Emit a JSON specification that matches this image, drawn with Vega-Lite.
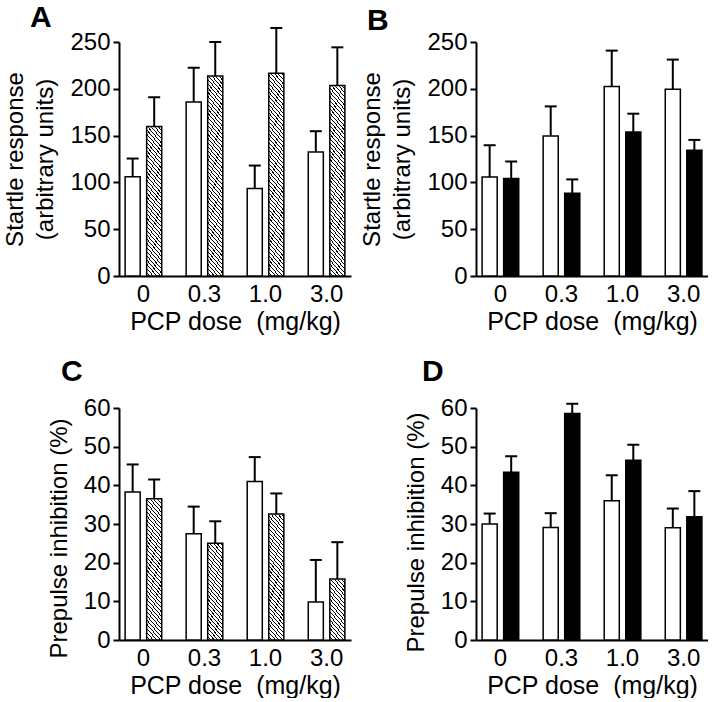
{
"$schema":"https://vega.github.io/schema/vega-lite/v6.json",
"background":"white",
"padding":{"left":3,"top":2,"right":0,"bottom":0},
"autosize":{"type":"pad"},
"datasets":{
"A":[
{"dose":"0","grp":"control","mean":106,"upper":125.5},
{"dose":"0","grp":"drug","mean":159.7,"upper":191},
{"dose":"0.3","grp":"control","mean":186,"upper":222.5},
{"dose":"0.3","grp":"drug","mean":213.7,"upper":250},
{"dose":"1.0","grp":"control","mean":93.5,"upper":118},
{"dose":"1.0","grp":"drug","mean":216.6,"upper":265},
{"dose":"3.0","grp":"control","mean":132.6,"upper":154.7},
{"dose":"3.0","grp":"drug","mean":203.4,"upper":244.3}],
"B":[
{"dose":"0","grp":"control","mean":105.7,"upper":139.7},
{"dose":"0","grp":"drug","mean":104.3,"upper":122.3},
{"dose":"0.3","grp":"control","mean":149.6,"upper":181.2},
{"dose":"0.3","grp":"drug","mean":88.3,"upper":103.2},
{"dose":"1.0","grp":"control","mean":202.5,"upper":240.8},
{"dose":"1.0","grp":"drug","mean":153.9,"upper":173.4},
{"dose":"3.0","grp":"control","mean":199.6,"upper":231.2},
{"dose":"3.0","grp":"drug","mean":134.4,"upper":145.4}],
"C":[
{"dose":"0","grp":"control","mean":38.3,"upper":45.4},
{"dose":"0","grp":"drug","mean":36.5,"upper":41.5},
{"dose":"0.3","grp":"control","mean":27.5,"upper":34.5},
{"dose":"0.3","grp":"drug","mean":25.0,"upper":30.7},
{"dose":"1.0","grp":"control","mean":41.0,"upper":47.3},
{"dose":"1.0","grp":"drug","mean":32.6,"upper":37.9},
{"dose":"3.0","grp":"control","mean":9.8,"upper":20.7},
{"dose":"3.0","grp":"drug","mean":15.8,"upper":25.3}],
"D":[
{"dose":"0","grp":"control","mean":30.0,"upper":32.7},
{"dose":"0","grp":"drug","mean":43.4,"upper":47.5},
{"dose":"0.3","grp":"control","mean":29.1,"upper":32.8},
{"dose":"0.3","grp":"drug","mean":58.6,"upper":61.1},
{"dose":"1.0","grp":"control","mean":36.0,"upper":42.6},
{"dose":"1.0","grp":"drug","mean":46.5,"upper":50.5},
{"dose":"3.0","grp":"control","mean":29.0,"upper":34.0},
{"dose":"3.0","grp":"drug","mean":31.9,"upper":38.5}]
},
"columns":2,
"bounds":"flush",
"spacing":{"column":125,"row":132},
"concat":[
{
"width":232,"height":234,
"title":{"text":"A","anchor":"start","frame":"group","dx":-89,"fontSize":30,"fontWeight":"bold","offset":-6},
"data":{"name":"A"},
"encoding":{
"x":{"field":"dose","type":"nominal","sort":["0","0.3","1.0","3.0"],"scale":{"paddingInner":0.4,"paddingOuter":0.1},"title":"PCP dose \u00a0(mg/kg)"},
"xOffset":{"field":"grp","type":"nominal","scale":{"domain":["control","drug"],"paddingInner":0.3}}
},
"layer":[
{"transform":[{"filter":"datum.grp==='drug'"}],"mark":{"type":"bar","stroke":null,"fill":{"gradient":"linear","x1":0,"y1":1,"x2":0.0813,"y2":-0.0698,"stops":[
{"offset":0,"color":"#fff"},{"offset":0.0117,"color":"#fff"},{"offset":0.0117,"color":"#000"},{"offset":0.016667,"color":"#000"},
{"offset":0.016667,"color":"#fff"},{"offset":0.028367,"color":"#fff"},{"offset":0.028367,"color":"#000"},{"offset":0.033333,"color":"#000"},
{"offset":0.033333,"color":"#fff"},{"offset":0.045033,"color":"#fff"},{"offset":0.045033,"color":"#000"},{"offset":0.05,"color":"#000"},
{"offset":0.05,"color":"#fff"},{"offset":0.0617,"color":"#fff"},{"offset":0.0617,"color":"#000"},{"offset":0.066667,"color":"#000"},
{"offset":0.066667,"color":"#fff"},{"offset":0.078367,"color":"#fff"},{"offset":0.078367,"color":"#000"},{"offset":0.083333,"color":"#000"},
{"offset":0.083333,"color":"#fff"},{"offset":0.095033,"color":"#fff"},{"offset":0.095033,"color":"#000"},{"offset":0.1,"color":"#000"},
{"offset":0.1,"color":"#fff"},{"offset":0.1117,"color":"#fff"},{"offset":0.1117,"color":"#000"},{"offset":0.116667,"color":"#000"},
{"offset":0.116667,"color":"#fff"},{"offset":0.128367,"color":"#fff"},{"offset":0.128367,"color":"#000"},{"offset":0.133333,"color":"#000"},
{"offset":0.133333,"color":"#fff"},{"offset":0.145033,"color":"#fff"},{"offset":0.145033,"color":"#000"},{"offset":0.15,"color":"#000"},
{"offset":0.15,"color":"#fff"},{"offset":0.1617,"color":"#fff"},{"offset":0.1617,"color":"#000"},{"offset":0.166667,"color":"#000"},
{"offset":0.166667,"color":"#fff"},{"offset":0.178367,"color":"#fff"},{"offset":0.178367,"color":"#000"},{"offset":0.183333,"color":"#000"},
{"offset":0.183333,"color":"#fff"},{"offset":0.195033,"color":"#fff"},{"offset":0.195033,"color":"#000"},{"offset":0.2,"color":"#000"},
{"offset":0.2,"color":"#fff"},{"offset":0.2117,"color":"#fff"},{"offset":0.2117,"color":"#000"},{"offset":0.216667,"color":"#000"},
{"offset":0.216667,"color":"#fff"},{"offset":0.228367,"color":"#fff"},{"offset":0.228367,"color":"#000"},{"offset":0.233333,"color":"#000"},
{"offset":0.233333,"color":"#fff"},{"offset":0.245033,"color":"#fff"},{"offset":0.245033,"color":"#000"},{"offset":0.25,"color":"#000"},
{"offset":0.25,"color":"#fff"},{"offset":0.2617,"color":"#fff"},{"offset":0.2617,"color":"#000"},{"offset":0.266667,"color":"#000"},
{"offset":0.266667,"color":"#fff"},{"offset":0.278367,"color":"#fff"},{"offset":0.278367,"color":"#000"},{"offset":0.283333,"color":"#000"},
{"offset":0.283333,"color":"#fff"},{"offset":0.295033,"color":"#fff"},{"offset":0.295033,"color":"#000"},{"offset":0.3,"color":"#000"},
{"offset":0.3,"color":"#fff"},{"offset":0.3117,"color":"#fff"},{"offset":0.3117,"color":"#000"},{"offset":0.316667,"color":"#000"},
{"offset":0.316667,"color":"#fff"},{"offset":0.328367,"color":"#fff"},{"offset":0.328367,"color":"#000"},{"offset":0.333333,"color":"#000"},
{"offset":0.333333,"color":"#fff"},{"offset":0.345033,"color":"#fff"},{"offset":0.345033,"color":"#000"},{"offset":0.35,"color":"#000"},
{"offset":0.35,"color":"#fff"},{"offset":0.3617,"color":"#fff"},{"offset":0.3617,"color":"#000"},{"offset":0.366667,"color":"#000"},
{"offset":0.366667,"color":"#fff"},{"offset":0.378367,"color":"#fff"},{"offset":0.378367,"color":"#000"},{"offset":0.383333,"color":"#000"},
{"offset":0.383333,"color":"#fff"},{"offset":0.395033,"color":"#fff"},{"offset":0.395033,"color":"#000"},{"offset":0.4,"color":"#000"},
{"offset":0.4,"color":"#fff"},{"offset":0.4117,"color":"#fff"},{"offset":0.4117,"color":"#000"},{"offset":0.416667,"color":"#000"},
{"offset":0.416667,"color":"#fff"},{"offset":0.428367,"color":"#fff"},{"offset":0.428367,"color":"#000"},{"offset":0.433333,"color":"#000"},
{"offset":0.433333,"color":"#fff"},{"offset":0.445033,"color":"#fff"},{"offset":0.445033,"color":"#000"},{"offset":0.45,"color":"#000"},
{"offset":0.45,"color":"#fff"},{"offset":0.4617,"color":"#fff"},{"offset":0.4617,"color":"#000"},{"offset":0.466667,"color":"#000"},
{"offset":0.466667,"color":"#fff"},{"offset":0.478367,"color":"#fff"},{"offset":0.478367,"color":"#000"},{"offset":0.483333,"color":"#000"},
{"offset":0.483333,"color":"#fff"},{"offset":0.495033,"color":"#fff"},{"offset":0.495033,"color":"#000"},{"offset":0.5,"color":"#000"},
{"offset":0.5,"color":"#fff"},{"offset":0.5117,"color":"#fff"},{"offset":0.5117,"color":"#000"},{"offset":0.516667,"color":"#000"},
{"offset":0.516667,"color":"#fff"},{"offset":0.528367,"color":"#fff"},{"offset":0.528367,"color":"#000"},{"offset":0.533333,"color":"#000"},
{"offset":0.533333,"color":"#fff"},{"offset":0.545033,"color":"#fff"},{"offset":0.545033,"color":"#000"},{"offset":0.55,"color":"#000"},
{"offset":0.55,"color":"#fff"},{"offset":0.5617,"color":"#fff"},{"offset":0.5617,"color":"#000"},{"offset":0.566667,"color":"#000"},
{"offset":0.566667,"color":"#fff"},{"offset":0.578367,"color":"#fff"},{"offset":0.578367,"color":"#000"},{"offset":0.583333,"color":"#000"},
{"offset":0.583333,"color":"#fff"},{"offset":0.595033,"color":"#fff"},{"offset":0.595033,"color":"#000"},{"offset":0.6,"color":"#000"},
{"offset":0.6,"color":"#fff"},{"offset":0.6117,"color":"#fff"},{"offset":0.6117,"color":"#000"},{"offset":0.616667,"color":"#000"},
{"offset":0.616667,"color":"#fff"},{"offset":0.628367,"color":"#fff"},{"offset":0.628367,"color":"#000"},{"offset":0.633333,"color":"#000"},
{"offset":0.633333,"color":"#fff"},{"offset":0.645033,"color":"#fff"},{"offset":0.645033,"color":"#000"},{"offset":0.65,"color":"#000"},
{"offset":0.65,"color":"#fff"},{"offset":0.6617,"color":"#fff"},{"offset":0.6617,"color":"#000"},{"offset":0.666667,"color":"#000"},
{"offset":0.666667,"color":"#fff"},{"offset":0.678367,"color":"#fff"},{"offset":0.678367,"color":"#000"},{"offset":0.683333,"color":"#000"},
{"offset":0.683333,"color":"#fff"},{"offset":0.695033,"color":"#fff"},{"offset":0.695033,"color":"#000"},{"offset":0.7,"color":"#000"},
{"offset":0.7,"color":"#fff"},{"offset":0.7117,"color":"#fff"},{"offset":0.7117,"color":"#000"},{"offset":0.716667,"color":"#000"},
{"offset":0.716667,"color":"#fff"},{"offset":0.728367,"color":"#fff"},{"offset":0.728367,"color":"#000"},{"offset":0.733333,"color":"#000"},
{"offset":0.733333,"color":"#fff"},{"offset":0.745033,"color":"#fff"},{"offset":0.745033,"color":"#000"},{"offset":0.75,"color":"#000"},
{"offset":0.75,"color":"#fff"},{"offset":0.7617,"color":"#fff"},{"offset":0.7617,"color":"#000"},{"offset":0.766667,"color":"#000"},
{"offset":0.766667,"color":"#fff"},{"offset":0.778367,"color":"#fff"},{"offset":0.778367,"color":"#000"},{"offset":0.783333,"color":"#000"},
{"offset":0.783333,"color":"#fff"},{"offset":0.795033,"color":"#fff"},{"offset":0.795033,"color":"#000"},{"offset":0.8,"color":"#000"},
{"offset":0.8,"color":"#fff"},{"offset":0.8117,"color":"#fff"},{"offset":0.8117,"color":"#000"},{"offset":0.816667,"color":"#000"},
{"offset":0.816667,"color":"#fff"},{"offset":0.828367,"color":"#fff"},{"offset":0.828367,"color":"#000"},{"offset":0.833333,"color":"#000"},
{"offset":0.833333,"color":"#fff"},{"offset":0.845033,"color":"#fff"},{"offset":0.845033,"color":"#000"},{"offset":0.85,"color":"#000"},
{"offset":0.85,"color":"#fff"},{"offset":0.8617,"color":"#fff"},{"offset":0.8617,"color":"#000"},{"offset":0.866667,"color":"#000"},
{"offset":0.866667,"color":"#fff"},{"offset":0.878367,"color":"#fff"},{"offset":0.878367,"color":"#000"},{"offset":0.883333,"color":"#000"},
{"offset":0.883333,"color":"#fff"},{"offset":0.895033,"color":"#fff"},{"offset":0.895033,"color":"#000"},{"offset":0.9,"color":"#000"},
{"offset":0.9,"color":"#fff"},{"offset":0.9117,"color":"#fff"},{"offset":0.9117,"color":"#000"},{"offset":0.916667,"color":"#000"},
{"offset":0.916667,"color":"#fff"},{"offset":0.928367,"color":"#fff"},{"offset":0.928367,"color":"#000"},{"offset":0.933333,"color":"#000"},
{"offset":0.933333,"color":"#fff"},{"offset":0.945033,"color":"#fff"},{"offset":0.945033,"color":"#000"},{"offset":0.95,"color":"#000"},
{"offset":0.95,"color":"#fff"},{"offset":0.9617,"color":"#fff"},{"offset":0.9617,"color":"#000"},{"offset":0.966667,"color":"#000"},
{"offset":0.966667,"color":"#fff"},{"offset":0.978367,"color":"#fff"},{"offset":0.978367,"color":"#000"},{"offset":0.983333,"color":"#000"},
{"offset":0.983333,"color":"#fff"},{"offset":0.995033,"color":"#fff"},{"offset":0.995033,"color":"#000"},{"offset":1,"color":"#000"}
]}},
"encoding":{"y":{"datum":250,"type":"quantitative","scale":{"domain":[0,250],"nice":false},"axis":{"values":[0,50,100,150,200,250]},"title":["Startle response","(arbitrary units)"]},"y2":{"datum":0}}},
{"transform":[{"filter":"datum.grp==='drug'"}],"mark":{"type":"bar","fill":"white","stroke":"white","strokeWidth":1.5},
"encoding":{"y":{"field":"mean","type":"quantitative","axis":{"values":[0,50,100,150,200,250]},"title":["Startle response","(arbitrary units)"]},"y2":{"datum":250}}},
{"transform":[{"filter":"datum.grp==='control'"}],"mark":{"type":"bar","fill":"white","stroke":"black","strokeWidth":1.5},
"encoding":{"y":{"field":"mean","type":"quantitative","axis":{"values":[0,50,100,150,200,250]},"title":["Startle response","(arbitrary units)"]}}},
{"transform":[{"filter":"datum.grp==='drug'"}],"mark":{"type":"bar","fill":null,"fillOpacity":0,"stroke":"black","strokeWidth":1.5},
"encoding":{"y":{"field":"mean","type":"quantitative","axis":{"values":[0,50,100,150,200,250]},"title":["Startle response","(arbitrary units)"]}}},
{"mark":{"type":"rule","color":"black","strokeWidth":2},
"encoding":{"y":{"field":"mean","type":"quantitative","axis":{"values":[0,50,100,150,200,250]},"title":["Startle response","(arbitrary units)"]},"y2":{"field":"upper"}}},
{"mark":{"type":"tick","color":"black","thickness":2,"size":12,"opacity":1},
"encoding":{"y":{"field":"upper","type":"quantitative","axis":{"values":[0,50,100,150,200,250]},"title":["Startle response","(arbitrary units)"]}}}
]
},
{
"width":232,"height":234,
"title":{"text":"B","anchor":"start","frame":"group","dx":-109,"fontSize":30,"fontWeight":"bold","offset":-6},
"data":{"name":"B"},
"encoding":{
"x":{"field":"dose","type":"nominal","sort":["0","0.3","1.0","3.0"],"scale":{"paddingInner":0.4,"paddingOuter":0.1},"title":"PCP dose \u00a0(mg/kg)"},
"xOffset":{"field":"grp","type":"nominal","scale":{"domain":["control","drug"],"paddingInner":0.3}}
},
"layer":[
{"transform":[{"filter":"datum.grp==='control'"}],"mark":{"type":"bar","fill":"white","stroke":"black","strokeWidth":1.5},
"encoding":{"y":{"field":"mean","type":"quantitative","scale":{"domain":[0,250],"nice":false},"axis":{"values":[0,50,100,150,200,250]},"title":["Startle response","(arbitrary units)"]}}},
{"transform":[{"filter":"datum.grp==='drug'"}],"mark":{"type":"bar","fill":"black","stroke":"black","strokeWidth":1.5},
"encoding":{"y":{"field":"mean","type":"quantitative","axis":{"values":[0,50,100,150,200,250]},"title":["Startle response","(arbitrary units)"]}}},
{"mark":{"type":"rule","color":"black","strokeWidth":2},
"encoding":{"y":{"field":"mean","type":"quantitative","axis":{"values":[0,50,100,150,200,250]},"title":["Startle response","(arbitrary units)"]},"y2":{"field":"upper"}}},
{"mark":{"type":"tick","color":"black","thickness":2,"size":12,"opacity":1},
"encoding":{"y":{"field":"upper","type":"quantitative","axis":{"values":[0,50,100,150,200,250]},"title":["Startle response","(arbitrary units)"]}}}
]
},
{
"width":232,"height":232,
"title":{"text":"C","anchor":"start","frame":"group","dx":-58,"fontSize":30,"fontWeight":"bold","offset":9},
"data":{"name":"C"},
"encoding":{
"x":{"field":"dose","type":"nominal","sort":["0","0.3","1.0","3.0"],"scale":{"paddingInner":0.4,"paddingOuter":0.1},"title":"PCP dose \u00a0(mg/kg)"},
"xOffset":{"field":"grp","type":"nominal","scale":{"domain":["control","drug"],"paddingInner":0.3}}
},
"layer":[
{"transform":[{"filter":"datum.grp==='drug'"}],"mark":{"type":"bar","stroke":null,"fill":{"gradient":"linear","x1":0,"y1":1,"x2":0.0813,"y2":-0.0698,"stops":[
{"offset":0,"color":"#fff"},{"offset":0.0117,"color":"#fff"},{"offset":0.0117,"color":"#000"},{"offset":0.016667,"color":"#000"},
{"offset":0.016667,"color":"#fff"},{"offset":0.028367,"color":"#fff"},{"offset":0.028367,"color":"#000"},{"offset":0.033333,"color":"#000"},
{"offset":0.033333,"color":"#fff"},{"offset":0.045033,"color":"#fff"},{"offset":0.045033,"color":"#000"},{"offset":0.05,"color":"#000"},
{"offset":0.05,"color":"#fff"},{"offset":0.0617,"color":"#fff"},{"offset":0.0617,"color":"#000"},{"offset":0.066667,"color":"#000"},
{"offset":0.066667,"color":"#fff"},{"offset":0.078367,"color":"#fff"},{"offset":0.078367,"color":"#000"},{"offset":0.083333,"color":"#000"},
{"offset":0.083333,"color":"#fff"},{"offset":0.095033,"color":"#fff"},{"offset":0.095033,"color":"#000"},{"offset":0.1,"color":"#000"},
{"offset":0.1,"color":"#fff"},{"offset":0.1117,"color":"#fff"},{"offset":0.1117,"color":"#000"},{"offset":0.116667,"color":"#000"},
{"offset":0.116667,"color":"#fff"},{"offset":0.128367,"color":"#fff"},{"offset":0.128367,"color":"#000"},{"offset":0.133333,"color":"#000"},
{"offset":0.133333,"color":"#fff"},{"offset":0.145033,"color":"#fff"},{"offset":0.145033,"color":"#000"},{"offset":0.15,"color":"#000"},
{"offset":0.15,"color":"#fff"},{"offset":0.1617,"color":"#fff"},{"offset":0.1617,"color":"#000"},{"offset":0.166667,"color":"#000"},
{"offset":0.166667,"color":"#fff"},{"offset":0.178367,"color":"#fff"},{"offset":0.178367,"color":"#000"},{"offset":0.183333,"color":"#000"},
{"offset":0.183333,"color":"#fff"},{"offset":0.195033,"color":"#fff"},{"offset":0.195033,"color":"#000"},{"offset":0.2,"color":"#000"},
{"offset":0.2,"color":"#fff"},{"offset":0.2117,"color":"#fff"},{"offset":0.2117,"color":"#000"},{"offset":0.216667,"color":"#000"},
{"offset":0.216667,"color":"#fff"},{"offset":0.228367,"color":"#fff"},{"offset":0.228367,"color":"#000"},{"offset":0.233333,"color":"#000"},
{"offset":0.233333,"color":"#fff"},{"offset":0.245033,"color":"#fff"},{"offset":0.245033,"color":"#000"},{"offset":0.25,"color":"#000"},
{"offset":0.25,"color":"#fff"},{"offset":0.2617,"color":"#fff"},{"offset":0.2617,"color":"#000"},{"offset":0.266667,"color":"#000"},
{"offset":0.266667,"color":"#fff"},{"offset":0.278367,"color":"#fff"},{"offset":0.278367,"color":"#000"},{"offset":0.283333,"color":"#000"},
{"offset":0.283333,"color":"#fff"},{"offset":0.295033,"color":"#fff"},{"offset":0.295033,"color":"#000"},{"offset":0.3,"color":"#000"},
{"offset":0.3,"color":"#fff"},{"offset":0.3117,"color":"#fff"},{"offset":0.3117,"color":"#000"},{"offset":0.316667,"color":"#000"},
{"offset":0.316667,"color":"#fff"},{"offset":0.328367,"color":"#fff"},{"offset":0.328367,"color":"#000"},{"offset":0.333333,"color":"#000"},
{"offset":0.333333,"color":"#fff"},{"offset":0.345033,"color":"#fff"},{"offset":0.345033,"color":"#000"},{"offset":0.35,"color":"#000"},
{"offset":0.35,"color":"#fff"},{"offset":0.3617,"color":"#fff"},{"offset":0.3617,"color":"#000"},{"offset":0.366667,"color":"#000"},
{"offset":0.366667,"color":"#fff"},{"offset":0.378367,"color":"#fff"},{"offset":0.378367,"color":"#000"},{"offset":0.383333,"color":"#000"},
{"offset":0.383333,"color":"#fff"},{"offset":0.395033,"color":"#fff"},{"offset":0.395033,"color":"#000"},{"offset":0.4,"color":"#000"},
{"offset":0.4,"color":"#fff"},{"offset":0.4117,"color":"#fff"},{"offset":0.4117,"color":"#000"},{"offset":0.416667,"color":"#000"},
{"offset":0.416667,"color":"#fff"},{"offset":0.428367,"color":"#fff"},{"offset":0.428367,"color":"#000"},{"offset":0.433333,"color":"#000"},
{"offset":0.433333,"color":"#fff"},{"offset":0.445033,"color":"#fff"},{"offset":0.445033,"color":"#000"},{"offset":0.45,"color":"#000"},
{"offset":0.45,"color":"#fff"},{"offset":0.4617,"color":"#fff"},{"offset":0.4617,"color":"#000"},{"offset":0.466667,"color":"#000"},
{"offset":0.466667,"color":"#fff"},{"offset":0.478367,"color":"#fff"},{"offset":0.478367,"color":"#000"},{"offset":0.483333,"color":"#000"},
{"offset":0.483333,"color":"#fff"},{"offset":0.495033,"color":"#fff"},{"offset":0.495033,"color":"#000"},{"offset":0.5,"color":"#000"},
{"offset":0.5,"color":"#fff"},{"offset":0.5117,"color":"#fff"},{"offset":0.5117,"color":"#000"},{"offset":0.516667,"color":"#000"},
{"offset":0.516667,"color":"#fff"},{"offset":0.528367,"color":"#fff"},{"offset":0.528367,"color":"#000"},{"offset":0.533333,"color":"#000"},
{"offset":0.533333,"color":"#fff"},{"offset":0.545033,"color":"#fff"},{"offset":0.545033,"color":"#000"},{"offset":0.55,"color":"#000"},
{"offset":0.55,"color":"#fff"},{"offset":0.5617,"color":"#fff"},{"offset":0.5617,"color":"#000"},{"offset":0.566667,"color":"#000"},
{"offset":0.566667,"color":"#fff"},{"offset":0.578367,"color":"#fff"},{"offset":0.578367,"color":"#000"},{"offset":0.583333,"color":"#000"},
{"offset":0.583333,"color":"#fff"},{"offset":0.595033,"color":"#fff"},{"offset":0.595033,"color":"#000"},{"offset":0.6,"color":"#000"},
{"offset":0.6,"color":"#fff"},{"offset":0.6117,"color":"#fff"},{"offset":0.6117,"color":"#000"},{"offset":0.616667,"color":"#000"},
{"offset":0.616667,"color":"#fff"},{"offset":0.628367,"color":"#fff"},{"offset":0.628367,"color":"#000"},{"offset":0.633333,"color":"#000"},
{"offset":0.633333,"color":"#fff"},{"offset":0.645033,"color":"#fff"},{"offset":0.645033,"color":"#000"},{"offset":0.65,"color":"#000"},
{"offset":0.65,"color":"#fff"},{"offset":0.6617,"color":"#fff"},{"offset":0.6617,"color":"#000"},{"offset":0.666667,"color":"#000"},
{"offset":0.666667,"color":"#fff"},{"offset":0.678367,"color":"#fff"},{"offset":0.678367,"color":"#000"},{"offset":0.683333,"color":"#000"},
{"offset":0.683333,"color":"#fff"},{"offset":0.695033,"color":"#fff"},{"offset":0.695033,"color":"#000"},{"offset":0.7,"color":"#000"},
{"offset":0.7,"color":"#fff"},{"offset":0.7117,"color":"#fff"},{"offset":0.7117,"color":"#000"},{"offset":0.716667,"color":"#000"},
{"offset":0.716667,"color":"#fff"},{"offset":0.728367,"color":"#fff"},{"offset":0.728367,"color":"#000"},{"offset":0.733333,"color":"#000"},
{"offset":0.733333,"color":"#fff"},{"offset":0.745033,"color":"#fff"},{"offset":0.745033,"color":"#000"},{"offset":0.75,"color":"#000"},
{"offset":0.75,"color":"#fff"},{"offset":0.7617,"color":"#fff"},{"offset":0.7617,"color":"#000"},{"offset":0.766667,"color":"#000"},
{"offset":0.766667,"color":"#fff"},{"offset":0.778367,"color":"#fff"},{"offset":0.778367,"color":"#000"},{"offset":0.783333,"color":"#000"},
{"offset":0.783333,"color":"#fff"},{"offset":0.795033,"color":"#fff"},{"offset":0.795033,"color":"#000"},{"offset":0.8,"color":"#000"},
{"offset":0.8,"color":"#fff"},{"offset":0.8117,"color":"#fff"},{"offset":0.8117,"color":"#000"},{"offset":0.816667,"color":"#000"},
{"offset":0.816667,"color":"#fff"},{"offset":0.828367,"color":"#fff"},{"offset":0.828367,"color":"#000"},{"offset":0.833333,"color":"#000"},
{"offset":0.833333,"color":"#fff"},{"offset":0.845033,"color":"#fff"},{"offset":0.845033,"color":"#000"},{"offset":0.85,"color":"#000"},
{"offset":0.85,"color":"#fff"},{"offset":0.8617,"color":"#fff"},{"offset":0.8617,"color":"#000"},{"offset":0.866667,"color":"#000"},
{"offset":0.866667,"color":"#fff"},{"offset":0.878367,"color":"#fff"},{"offset":0.878367,"color":"#000"},{"offset":0.883333,"color":"#000"},
{"offset":0.883333,"color":"#fff"},{"offset":0.895033,"color":"#fff"},{"offset":0.895033,"color":"#000"},{"offset":0.9,"color":"#000"},
{"offset":0.9,"color":"#fff"},{"offset":0.9117,"color":"#fff"},{"offset":0.9117,"color":"#000"},{"offset":0.916667,"color":"#000"},
{"offset":0.916667,"color":"#fff"},{"offset":0.928367,"color":"#fff"},{"offset":0.928367,"color":"#000"},{"offset":0.933333,"color":"#000"},
{"offset":0.933333,"color":"#fff"},{"offset":0.945033,"color":"#fff"},{"offset":0.945033,"color":"#000"},{"offset":0.95,"color":"#000"},
{"offset":0.95,"color":"#fff"},{"offset":0.9617,"color":"#fff"},{"offset":0.9617,"color":"#000"},{"offset":0.966667,"color":"#000"},
{"offset":0.966667,"color":"#fff"},{"offset":0.978367,"color":"#fff"},{"offset":0.978367,"color":"#000"},{"offset":0.983333,"color":"#000"},
{"offset":0.983333,"color":"#fff"},{"offset":0.995033,"color":"#fff"},{"offset":0.995033,"color":"#000"},{"offset":1,"color":"#000"}
]}},
"encoding":{"y":{"datum":60,"type":"quantitative","scale":{"domain":[0,60],"nice":false},"axis":{"values":[0,10,20,30,40,50,60],"titleY":130},"title":"Prepulse inhibition (%)"},"y2":{"datum":0}}},
{"transform":[{"filter":"datum.grp==='drug'"}],"mark":{"type":"bar","fill":"white","stroke":"white","strokeWidth":1.5},
"encoding":{"y":{"field":"mean","type":"quantitative","axis":{"values":[0,10,20,30,40,50,60],"titleY":130},"title":"Prepulse inhibition (%)"},"y2":{"datum":60}}},
{"transform":[{"filter":"datum.grp==='control'"}],"mark":{"type":"bar","fill":"white","stroke":"black","strokeWidth":1.5},
"encoding":{"y":{"field":"mean","type":"quantitative","axis":{"values":[0,10,20,30,40,50,60],"titleY":130},"title":"Prepulse inhibition (%)"}}},
{"transform":[{"filter":"datum.grp==='drug'"}],"mark":{"type":"bar","fill":null,"fillOpacity":0,"stroke":"black","strokeWidth":1.5},
"encoding":{"y":{"field":"mean","type":"quantitative","axis":{"values":[0,10,20,30,40,50,60],"titleY":130},"title":"Prepulse inhibition (%)"}}},
{"mark":{"type":"rule","color":"black","strokeWidth":2},
"encoding":{"y":{"field":"mean","type":"quantitative","axis":{"values":[0,10,20,30,40,50,60],"titleY":130},"title":"Prepulse inhibition (%)"},"y2":{"field":"upper"}}},
{"mark":{"type":"tick","color":"black","thickness":2,"size":12,"opacity":1},
"encoding":{"y":{"field":"upper","type":"quantitative","axis":{"values":[0,10,20,30,40,50,60],"titleY":130},"title":"Prepulse inhibition (%)"}}}
]
},
{
"width":232,"height":232,
"title":{"text":"D","anchor":"start","frame":"group","dx":-54,"fontSize":30,"fontWeight":"bold","offset":9},
"data":{"name":"D"},
"encoding":{
"x":{"field":"dose","type":"nominal","sort":["0","0.3","1.0","3.0"],"scale":{"paddingInner":0.4,"paddingOuter":0.1},"title":"PCP dose \u00a0(mg/kg)"},
"xOffset":{"field":"grp","type":"nominal","scale":{"domain":["control","drug"],"paddingInner":0.3}}
},
"layer":[
{"transform":[{"filter":"datum.grp==='control'"}],"mark":{"type":"bar","fill":"white","stroke":"black","strokeWidth":1.5},
"encoding":{"y":{"field":"mean","type":"quantitative","scale":{"domain":[0,60],"nice":false},"axis":{"values":[0,10,20,30,40,50,60],"titleY":124},"title":"Prepulse inhibition (%)"}}},
{"transform":[{"filter":"datum.grp==='drug'"}],"mark":{"type":"bar","fill":"black","stroke":"black","strokeWidth":1.5},
"encoding":{"y":{"field":"mean","type":"quantitative","axis":{"values":[0,10,20,30,40,50,60],"titleY":124},"title":"Prepulse inhibition (%)"}}},
{"mark":{"type":"rule","color":"black","strokeWidth":2},
"encoding":{"y":{"field":"mean","type":"quantitative","axis":{"values":[0,10,20,30,40,50,60],"titleY":124},"title":"Prepulse inhibition (%)"},"y2":{"field":"upper"}}},
{"mark":{"type":"tick","color":"black","thickness":2,"size":12,"opacity":1},
"encoding":{"y":{"field":"upper","type":"quantitative","axis":{"values":[0,10,20,30,40,50,60],"titleY":124},"title":"Prepulse inhibition (%)"}}}
]
}
],
"config":{
"font":"Liberation Sans",
"view":{"stroke":null},
"axis":{"domainColor":"black","domainWidth":2,"tickColor":"black","tickWidth":2,"labelColor":"black","titleColor":"black","labelFontSize":24,"titleFontSize":24,"titleFontWeight":"normal","grid":false,"labelFont":"Liberation Sans","titleFont":"Liberation Sans","labelOverlap":false},
"axisX":{"ticks":false,"labelPadding":6,"titlePadding":3,"labelAngle":0,"titleFontSize":25},
"axisY":{"tickSize":6,"labelPadding":3,"titlePadding":12,"titleLineHeight":30},
"title":{"color":"black","font":"Liberation Sans"}
}
}
